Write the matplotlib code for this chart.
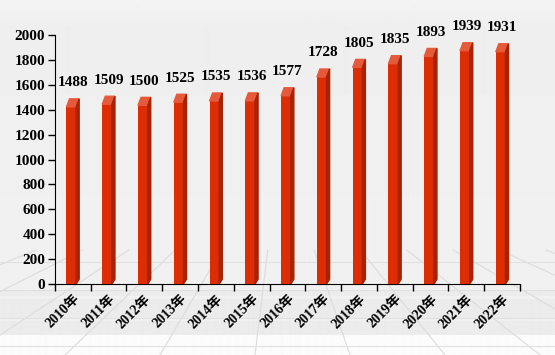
import numpy as np
import matplotlib.pyplot as plt
from matplotlib.patches import Polygon

years = ['2010年', '2011年', '2012年', '2013年', '2014年', '2015年', '2016年',
         '2017年', '2018年', '2019年', '2020年', '2021年', '2022年']
values = [1488, 1509, 1500, 1525, 1535, 1536, 1577, 1728, 1805, 1835, 1893, 1939, 1931]

label_font = ['Liberation Serif', 'Noto Sans CJK SC']

fig = plt.figure(figsize=(5.55, 3.55), dpi=100)

# background: light grey gradient with a perspective floor grid
bg = fig.add_axes([0, 0, 1, 1], zorder=0)
bg.set_xlim(0, 555)
bg.set_ylim(355, 0)
bg.axis('off')
shade = np.full(355, 0.94)
shade[:30] = np.linspace(0.955, 0.935, 30)
shade[30:290] = np.linspace(0.935, 0.945, 260)
shade[290:335] = 0.925
shade[296:299] = 0.945
shade[318:321] = 0.945
shade[335:] = 0.985
img = np.repeat(shade[:, None], 2, axis=1)
bg.imshow(img, cmap='gray', vmin=0, vmax=1, aspect='auto',
          extent=[0, 555, 355, 0], interpolation='bilinear')
vx, vy = 280, 150
for xb in np.arange(-600, 1200, 95):
    yt, yb = 250, 355
    xs = vx + (xb - vx) * (np.array([yt, yb]) - vy) / (yb - vy)
    bg.plot(xs, [yt, yb], color='#dcdcdc', lw=0.8, zorder=1)
for yl in [262, 290, 318, 346]:
    bg.plot([0, 555], [yl, yl], color='#e0e0e0', lw=0.8, zorder=1)

ax = fig.add_axes([0.099, 0.2, 0.838, 0.701], zorder=2)
ax.patch.set_alpha(0)

x = np.arange(len(years))
front_w = 0.27
dx = 0.085
dy = 64
for xi, v in zip(x, values):
    xl = xi - (front_w + dx) / 2
    xr = xl + front_w
    ax.bar(xl, v - dy, width=front_w, align='edge', color='#dc2d05', zorder=3)
    ax.add_patch(Polygon([(xl, v - dy), (xl + dx, v), (xr + dx, v), (xr, v - dy)],
                         closed=True, color='#e65a3c', zorder=3))
    ax.add_patch(Polygon([(xr, 0), (xr + dx, dy * 0.6), (xr + dx, v), (xr, v - dy)],
                         closed=True, color='#a82204', zorder=3))
    ax.annotate(str(v), (xi, v), xytext=(0, 7), textcoords='offset points',
                ha='center', va='bottom', fontsize=11, fontweight='bold',
                family='Liberation Serif', zorder=4)

ax.set_xlim(-0.5, len(years) - 0.5)
ax.set_ylim(0, 2000)
ax.set_yticks(range(0, 2001, 200))
ax.set_xticks(x)
ax.set_xticklabels(years, rotation=45, ha='right', va='top', rotation_mode='anchor',
                   family=label_font, fontweight='bold', fontsize=10)
ax.set_xticks(np.arange(-0.5, len(years), 1), minor=True)
ax.tick_params(axis='x', which='major', length=0, pad=6)
ax.tick_params(axis='x', which='minor', length=5, width=1, direction='out')
ax.tick_params(axis='y', length=5, width=1, direction='out', pad=2)
for lbl in ax.get_yticklabels():
    lbl.set_fontweight('bold')
    lbl.set_family('Liberation Serif')
    lbl.set_fontsize(11)
ax.spines['top'].set_visible(False)
ax.spines['right'].set_visible(False)

fig.savefig('out.png', dpi=100)
